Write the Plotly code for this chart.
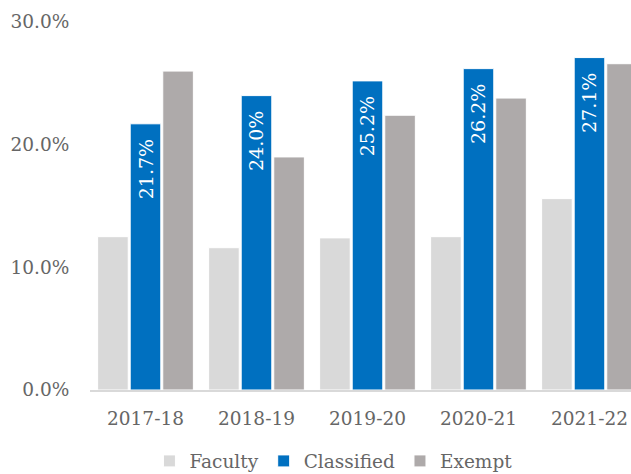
import plotly.graph_objects as go

years = ["2017-18", "2018-19", "2019-20", "2020-21", "2021-22"]
faculty = [0.125, 0.116, 0.124, 0.125, 0.156]
classified = [0.217, 0.240, 0.252, 0.262, 0.271]
exempt = [0.260, 0.190, 0.224, 0.238, 0.266]

FONT = "DejaVu Serif, Liberation Serif, serif"
TEXT_GREY = "#666666"

fig = go.Figure()
fig.add_trace(go.Bar(
    x=years, y=faculty, name="Faculty",
    marker=dict(color="#D9D9D9", line=dict(color="white", width=1)),
))
fig.add_trace(go.Bar(
    x=years, y=classified, name="Classified",
    marker=dict(color="#0070C0", line=dict(color="white", width=1)),
    texttemplate="%{y:.1%}\u00a0\u00a0",
    textposition="inside",
    insidetextanchor="end",
    textangle=-90,
    textfont=dict(family=FONT, size=19, color="white"),
))
fig.add_trace(go.Bar(
    x=years, y=exempt, name="Exempt",
    marker=dict(color="#AEAAAA", line=dict(color="white", width=1)),
))

fig.update_layout(
    width=631, height=474,
    margin=dict(l=90, r=0, t=22, b=84, autoexpand=False),
    paper_bgcolor="white", plot_bgcolor="white",
    barmode="group", bargap=0.12, bargroupgap=0.06,
    font=dict(family=FONT, size=18.5, color=TEXT_GREY),
    showlegend=True,
    legend=dict(
        orientation="h", x=0.45, xanchor="center", y=-0.194, yanchor="middle",
        font=dict(family=FONT, size=18.5, color=TEXT_GREY),
        itemwidth=30,
    ),
    uniformtext=dict(minsize=10, mode="show"),
)
fig.update_xaxes(
    range=[-0.5, 4.374], automargin=False,
    showline=True, linecolor="#D9D9D9", linewidth=1.5,
    ticks="outside", ticklen=11, tickcolor="rgba(0,0,0,0)",
    showgrid=False,
)
fig.update_yaxes(
    range=[0, 0.30], dtick=0.10, tickformat=".1%", automargin=False,
    showgrid=False, zeroline=False, showline=False,
    ticks="outside", ticklen=16, tickcolor="rgba(0,0,0,0)",
)

# the page body has a default 8px margin; drop it so the chart sits at 0,0
fig.write_html(
    "out.html",
    config={"displayModeBar": False},
    post_script="document.body.style.margin='0';",
)
